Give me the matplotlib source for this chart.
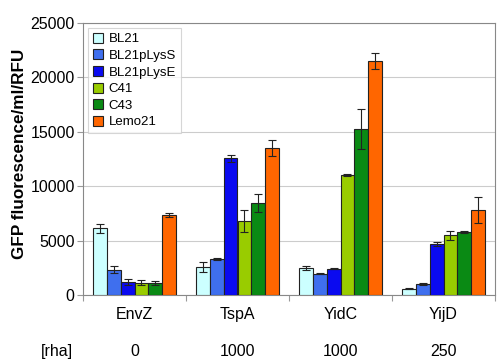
import numpy as np
import matplotlib
matplotlib.use("Agg")
import matplotlib.pyplot as plt

plt.rcParams["font.family"] = ["Liberation Sans", "DejaVu Sans"]

proteins = ["EnvZ", "TspA", "YidC", "YijD"]
rha = ["0", "1000", "1000", "250"]
strains = ["BL21", "BL21pLysS", "BL21pLysE", "C41", "C43", "Lemo21"]
colors = ["#ccffff", "#3f6fee", "#0a0af0", "#99cc00", "#0a8a14", "#ff6600"]

# rows = strains, columns = proteins
values = [
    [6150, 2600, 2500, 580],
    [2350, 3300, 1950, 1010],
    [1200, 12550, 2420, 4700],
    [1150, 6800, 11030, 5500],
    [1100, 8450, 15250, 5800],
    [7350, 13500, 21500, 7850],
]
errors = [
    [400, 450, 150, 30],
    [350, 100, 50, 60],
    [250, 300, 60, 200],
    [200, 1000, 100, 400],
    [200, 800, 1800, 60],
    [150, 700, 700, 1200],
]

fig = plt.figure(figsize=(5, 3.63), dpi=100)
ax = fig.add_axes([0.166, 0.187, 0.824, 0.750])

x = np.arange(len(proteins))
width = 0.8 / len(strains)
for i, (name, col) in enumerate(zip(strains, colors)):
    pos = x - 0.4 + width * (i + 0.5)
    ax.bar(pos, values[i], width, color=col, edgecolor="#222222", linewidth=0.8,
           label=name, zorder=3)
    ax.errorbar(pos, values[i], yerr=errors[i], fmt="none", ecolor="#222222",
                elinewidth=0.8, capsize=3, capthick=0.8, zorder=4)

ax.set_xlim(-0.5, len(proteins) - 0.5)
ax.set_ylim(0, 25000)
ax.set_yticks(np.arange(0, 25001, 5000))
ax.yaxis.grid(True, color="#cccccc", linewidth=0.8, zorder=0)
ax.set_axisbelow(True)

ax.set_xticks(np.arange(-0.5, len(proteins)))
ax.set_xticklabels([])
ax.tick_params(axis="x", length=4, color="#999999")
ax.tick_params(axis="y", labelsize=11.5, length=4, color="#999999", pad=2)

for sp in ax.spines.values():
    sp.set_color("#888888")
    sp.set_linewidth(0.8)

ax.set_ylabel("GFP fluorescence/ml/RFU", fontsize=12.3, fontweight="bold")
ax.yaxis.set_label_coords(-0.135, 0.52)

# category names and rhamnose concentration rows
tr = ax.get_xaxis_transform()
for xi, p, r in zip(x, proteins, rha):
    ax.text(xi, -0.072, p, transform=tr, ha="center", va="center", fontsize=11.5)
    ax.text(xi, -0.208, r, transform=tr, ha="center", va="center", fontsize=11.5)
ax.text(-0.063, -0.208, "[rha]", transform=ax.transAxes, ha="center",
        va="center", fontsize=11.5)

leg = ax.legend(loc="upper left", fontsize=9.5, frameon=True, fancybox=False,
                handlelength=0.8, handleheight=0.8, handletextpad=0.4,
                borderaxespad=0.4, labelspacing=0.3, borderpad=0.35)
leg.get_frame().set_edgecolor("#cccccc")
leg.get_frame().set_linewidth(0.8)

fig.savefig("out.png", dpi=100)
